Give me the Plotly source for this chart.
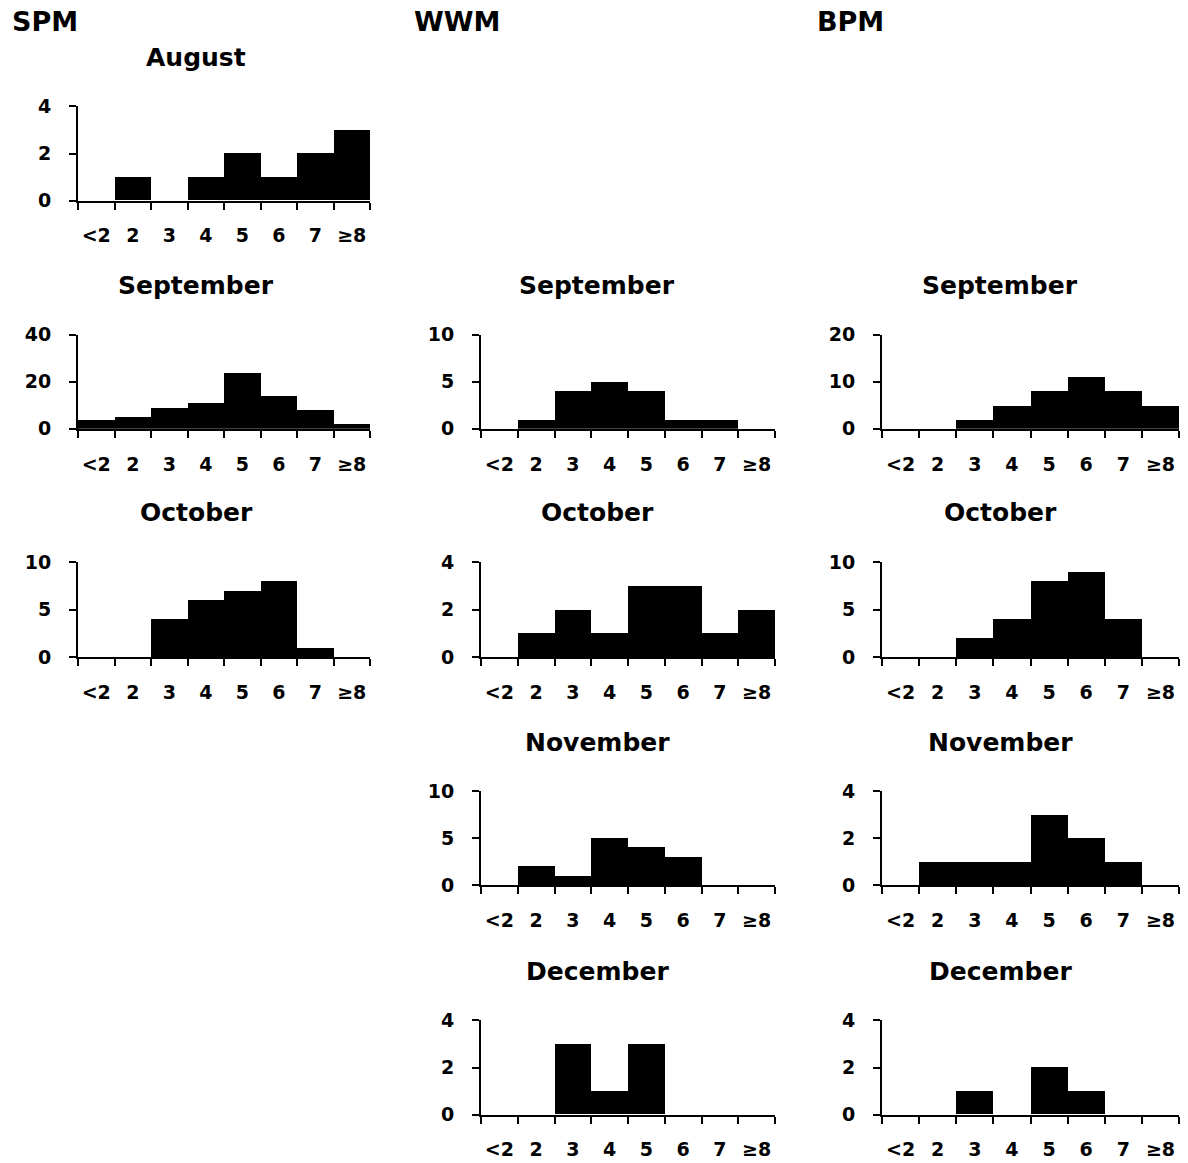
import plotly.graph_objects as go

# Size classes on the x axis
size_classes = ["<2", "2", "3", "4", "5", "6", "7", "≥8"]

# Counts per size class, by site and month
spm_august = [0, 1, 0, 1, 2, 1, 2, 3]
spm_september = [4, 5, 9, 11, 24, 14, 8, 2]
spm_october = [0, 0, 4, 6, 7, 8, 1, 0]

wwm_september = [0, 1, 4, 5, 4, 1, 1, 0]
wwm_october = [0, 1, 2, 1, 3, 3, 1, 2]
wwm_november = [0, 2, 1, 5, 4, 3, 0, 0]
wwm_december = [0, 0, 3, 1, 3, 0, 0, 0]

bpm_september = [0, 0, 2, 5, 8, 11, 8, 5]
bpm_october = [0, 0, 2, 4, 8, 9, 4, 0]
bpm_november = [0, 1, 1, 1, 3, 2, 1, 0]
bpm_december = [0, 0, 1, 0, 2, 1, 0, 0]

site_names = ["SPM", "WWM", "BPM"]

# (column, row, month, counts, y max)
panels = [
    (0, 0, "August", spm_august, 4),
    (0, 1, "September", spm_september, 40),
    (0, 2, "October", spm_october, 10),
    (1, 1, "September", wwm_september, 10),
    (1, 2, "October", wwm_october, 4),
    (1, 3, "November", wwm_november, 10),
    (1, 4, "December", wwm_december, 4),
    (2, 1, "September", bpm_september, 20),
    (2, 2, "October", bpm_october, 10),
    (2, 3, "November", bpm_november, 4),
    (2, 4, "December", bpm_december, 4),
]

W, H = 1188, 1163

# pixel extents of each panel column / row
col_x = [(78, 370), (481, 775), (882, 1179)]
row_y = [(107, 201), (335, 429), (562, 657), (791, 885), (1020, 1114)]
title_x = [196, 597, 1000]
header_x = [10, 412, 815]

# vertical spread of the layout about the page middle
V_CENTER, V_SPREAD = 581.0, 1.0 / 0.98


def px_x(v):
    return v / W


def px_y(v):
    v = V_CENTER + (v - V_CENTER) * V_SPREAD
    return 1 - v / H


tick_font = dict(family="'DejaVu Sans', sans-serif", size=19, color="black", weight="bold")
title_font = dict(family="'DejaVu Sans', sans-serif", size=25, color="black", weight="bold")
header_font = dict(family="'DejaVu Sans', sans-serif", size=27, color="black", weight="bold")

fig = go.Figure()
layout = {}
annotations = []

for i, (c, r, month, counts, ymax) in enumerate(panels, start=1):
    suffix = "" if i == 1 else str(i)
    fig.add_trace(go.Bar(
        x=size_classes, y=counts,
        xaxis="x" + suffix, yaxis="y" + suffix,
        marker=dict(color="black", line=dict(width=0)),
        width=1.0, showlegend=False,
    ))
    x0, x1 = col_x[c]
    top, zero = row_y[r]
    layout["xaxis" + suffix] = dict(
        domain=[px_x(x0), px_x(x1)], anchor="y" + suffix,
        type="category", categoryorder="array", categoryarray=size_classes,
        tickson="boundaries", ticks="outside", ticklen=7, tickwidth=2,
        tickcolor="black", showline=True, linecolor="black", linewidth=2,
        showgrid=False, zeroline=False, tickfont=tick_font, tickangle=0,
        ticklabelstandoff=17, fixedrange=True,
    )
    layout["yaxis" + suffix] = dict(
        domain=[px_y(zero), px_y(top)], anchor="x" + suffix,
        range=[0, ymax], tickmode="array",
        tickvals=[0, ymax / 2, ymax],
        ticktext=[str(int(v)) for v in (0, ymax / 2, ymax)],
        ticks="outside", ticklen=7, tickwidth=2, tickcolor="black",
        showline=True, linecolor="black", linewidth=2,
        showgrid=False, zeroline=False, tickfont=tick_font,
        ticklabelstandoff=14, fixedrange=True,
    )
    annotations.append(dict(
        text=month, x=px_x(title_x[c]), y=px_y(top - 49),
        xref="paper", yref="paper", xanchor="center", yanchor="middle",
        showarrow=False, font=title_font,
    ))

for c, name in enumerate(site_names):
    annotations.append(dict(
        text=name, x=px_x(header_x[c]), y=px_y(22),
        xref="paper", yref="paper", xanchor="left", yanchor="middle",
        showarrow=False, font=header_font,
    ))

fig.update_layout(
    width=W, height=H, margin=dict(l=0, r=0, t=0, b=0),
    paper_bgcolor="white", plot_bgcolor="white",
    bargap=0, annotations=annotations, **layout,
)

fig.write_html("out.html")
